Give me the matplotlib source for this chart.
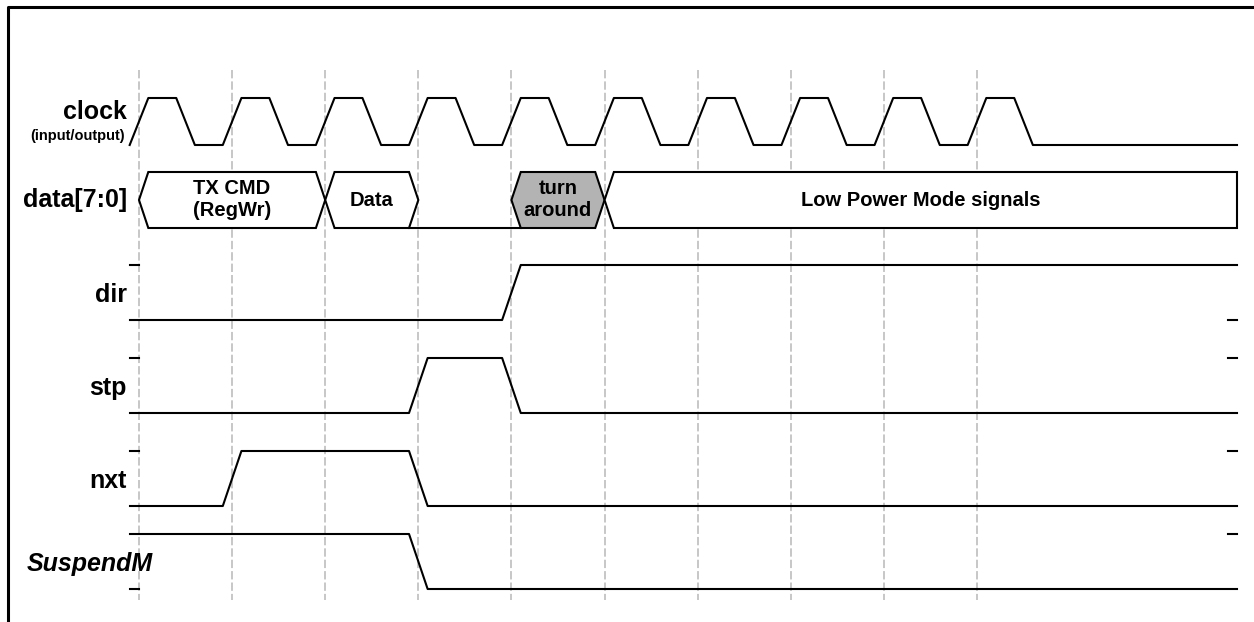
import matplotlib
matplotlib.use("Agg")
import matplotlib.pyplot as plt

plt.rcParams['font.family'] = ['Liberation Sans', 'DejaVu Sans']
plt.rcParams['lines.scale_dashes'] = False

# ---- timing data (in clock cycles, edge k sits on grid line k) ----
n_clock = 10                      # number of clock pulses before clock stops
grid_cycles = list(range(10))     # dashed reference lines

signal_names = ["dir", "stp", "nxt", "SuspendM"]
signal_init = [0, 0, 0, 1]        # starting level
signal_edges = [[4], [3, 4], [1, 3], [3]]   # cycle of each toggle

bus_labels = ["TX CMD\n(RegWr)", "Data", "turn\naround", "Low Power Mode signals"]
bus_start = [0, 2, 4, 5]
bus_end = [2, 3, 5, None]         # None -> runs to the end of the diagram
bus_fill = ["white", "white", "#b3b3b3", "white"]
bus_float = (3, 4)                # bus not driven (line at bottom)

# ---- layout (pixels of the 1254x622 canvas) ----
W, H = 1254, 622
X0 = 139.0                        # pixel x of cycle 0
T = (977.0 - 139.0) / 9           # pixels per cycle
def cx(px):
    return (px - X0) / T

t_start = cx(130)
t_end = cx(1237)
edge = 0.1                        # half width of a transition, cycles

clk_hi, clk_lo = 98, 145
bus_top, bus_bot = 172, 228
bus_mid = (bus_top + bus_bot) / 2
lanes = [(265, 320), (358, 413), (451, 506), (534, 589)]   # (high y, low y)
label_base = [302, 395, 488, 571]

fig = plt.figure(figsize=(W / 100, H / 100), dpi=100)
ax = fig.add_axes([0, 0, 1, 1])
ax.set_xlim(cx(0), cx(W))
ax.set_ylim(H, 0)
ax.axis("off")

lw = 1.5
bold = dict(fontweight="bold", color="black")

# border (left and top)
ax.plot([cx(8), cx(8), cx(W)], [H, 7, 7], color="black", lw=2.2, solid_capstyle="projecting")

# dashed grid
for g in grid_cycles:
    ax.plot([g, g], [70, 600], color="#bdbdbd", lw=1.2, dashes=(6, 2.2), zorder=0)

# clock
xs, ys = [], []
for i in range(n_clock):
    xs += [i - edge, i + edge, i + 0.5 - edge, i + 0.5 + edge]
    ys += [clk_lo, clk_hi, clk_hi, clk_lo]
xs.append(t_end)
ys.append(clk_lo)
ax.plot(xs, ys, color="black", lw=lw, zorder=3)

# bus
for lab, s, e, fc in zip(bus_labels, bus_start, bus_end, bus_fill):
    if e is None:
        px_ = [s, s + edge, t_end, t_end, s + edge]
        py_ = [bus_mid, bus_top, bus_top, bus_bot, bus_bot]
        xc = (s + t_end) / 2
    else:
        px_ = [s, s + edge, e - edge, e, e - edge, s + edge]
        py_ = [bus_mid, bus_top, bus_top, bus_mid, bus_bot, bus_bot]
        xc = (s + e) / 2
    ax.fill(px_, py_, facecolor=fc, edgecolor="black", lw=lw, zorder=3, joinstyle="miter")
    ax.text(xc, bus_mid, lab, ha="center", va="center", fontsize=14.5,
            linespacing=1.2, zorder=4, **bold)
ax.plot([bus_float[0] - edge, bus_float[1] + edge], [bus_bot, bus_bot],
        color="black", lw=lw, zorder=2)

# single signals
for name, init, edges, (hi, lo), base in zip(signal_names, signal_init, signal_edges,
                                               lanes, label_base):
    lvl = init
    xs = [t_start]
    ys = [hi if lvl else lo]
    for e in edges:
        xs += [e - edge, e + edge]
        ys += [hi if lvl else lo]
        lvl = 1 - lvl
        ys += [hi if lvl else lo]
    xs.append(t_end)
    ys.append(hi if lvl else lo)
    ax.plot(xs, ys, color="black", lw=lw, zorder=3)
    # level markers on the unused rail at each end
    ax.plot([t_start, 0], [lo if init else hi] * 2, color="black", lw=lw, zorder=3)
    ax.plot([t_end - edge, t_end], [lo if lvl else hi] * 2, color="black", lw=lw, zorder=3)
    if name == "SuspendM":
        ax.text(cx(27), base, name, ha="left", va="baseline", fontsize=18,
                fontstyle="italic", zorder=4, **bold)
    else:
        ax.text(cx(127), base, name, ha="right", va="baseline", fontsize=18, **bold)

ax.text(cx(127), 119, "clock", ha="right", va="baseline", fontsize=18, **bold)
ax.text(cx(125), 140, "(input/output)", ha="right", va="baseline", fontsize=10.5, **bold)
ax.text(cx(127), 207, "data[7:0]", ha="right", va="baseline", fontsize=18, **bold)

fig.savefig("out.png", dpi=100)
